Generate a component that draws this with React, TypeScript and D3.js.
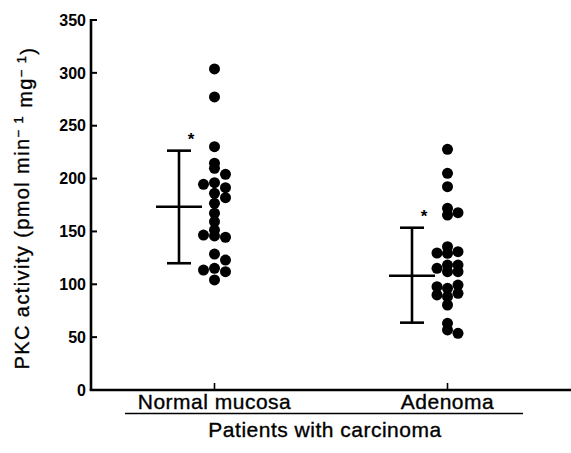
import React from "react";
import * as d3 from "d3";

const categories = ["Normal mucosa", "Adenoma"];
const groupLabel = "Patients with carcinoma";
const yTicks = [0, 50, 100, 150, 200, 250, 300, 350];

// individual values, with column (-1 left, 0 centre, 1 right) in the dot stack
const normalValues = [303.7, 277.2, 230.2, 214.5, 209.7, 204, 194.6, 196.1, 191.4, 186.1, 181.9, 176.6, 167.2, 159.2, 151.4, 146.6, 145.7, 144.5, 128.6, 122.9, 113.5, 115.1, 111.9, 104.1];
const normalColumn = [0, 0, 0, 0, 0, 1, -1, 0, 1, 0, 1, 0, 0, 0, 0, -1, 0, 1, 0, 1, -1, 0, 1, 0];
const adenomaValues = [227.7, 205, 192.3, 171.9, 165.5, 167.7, 129.6, 135.6, 129.3, 130.8, 115.1, 118.2, 111.9, 118.2, 111.9, 97.7, 89.9, 96.2, 88.3, 80.4, 99.3, 91.5, 63.1, 56.8, 53.6];
const adenomaColumn = [0, 0, 0, 0, 0, 1, -1, 0, 0, 1, -1, 0, 0, 1, 1, -1, -1, 0, 0, 0, 1, 1, 0, 0, 1];

// mean and +/- SD
const means = [173.4, 108.1];
const upper = [226.4, 153.5];
const lower = [119.9, 63.7];

const W = 571;
const H = 453;
const font = "'Liberation Sans', Arial, Helvetica, sans-serif";

export default function App() {
  const x = d3.scalePoint<string>().domain(categories).range([91, 571]).padding(0.53);
  const y = d3.scaleLinear().domain([0, 350]).range([390, 20]);
  const x0 = 91;
  const yBase = y(0);
  const groups = [
    { values: normalValues, cols: normalColumn, colStep: 11 },
    { values: adenomaValues, cols: adenomaColumn, colStep: 10.5 },
  ];
  const sw = 2.6;
  const labelStyle = { fontFamily: font, fontSize: 21, letterSpacing: 0.5 } as const;

  return (
    <svg width={W} height={H} style={{ position: "absolute", left: 0, top: 0, background: "#fff" }}>
      {/* y axis */}
      <line x1={x0} x2={x0} y1={y(350) - 1} y2={yBase} stroke="#000" strokeWidth={sw} />
      {yTicks.map((t) => (
        <g key={t}>
          <line x1={x0} x2={x0 + 6} y1={y(t)} y2={y(t)} stroke="#000" strokeWidth={2} />
          <text x={86} y={y(t)} dy="0.36em" textAnchor="end" fontFamily={font} fontSize={16} fontWeight={600}>
            {t}
          </text>
        </g>
      ))}
      {/* x axis */}
      <line x1={x0 - sw / 2} x2={W} y1={yBase} y2={yBase} stroke="#000" strokeWidth={sw} />
      {categories.map((c) => (
        <g key={c}>
          <line x1={x(c)!} x2={x(c)!} y1={yBase} y2={yBase - 7} stroke="#000" strokeWidth={1.6} />
          <text x={x(c)!} y={409} textAnchor="middle" {...labelStyle} stroke="#000" strokeWidth={0.35}>
            {c}
          </text>
        </g>
      ))}
      <line x1={125} x2={523} y1={413.5} y2={413.5} stroke="#000" strokeWidth={1.6} />
      <text x={325} y={437} textAnchor="middle" {...labelStyle} stroke="#000" strokeWidth={0.35}>
        {groupLabel}
      </text>
      {/* y title */}
      <text
        transform={`translate(29, ${208}) rotate(-90)`}
        textAnchor="middle"
        fontFamily={font}
        fontSize={20}
        letterSpacing={1.4}
        stroke="#000"
        strokeWidth={0.35}
      >
        PKC activity (pmol min
        <tspan dy="-0.45em" fontSize={13}>− 1</tspan>
        <tspan dy="0.45em"> mg</tspan>
        <tspan dy="-0.45em" fontSize={13}>− 1</tspan>
        <tspan dy="0.45em">)</tspan>
      </text>
      {/* error bars */}
      {categories.map((c, i) => {
        const bx = x(c)! - 35.5;
        return (
          <g key={"eb" + c} stroke="#000" strokeWidth={sw}>
            <line x1={bx} x2={bx} y1={y(upper[i])} y2={y(lower[i])} />
            <line x1={bx - 12} x2={bx + 12} y1={y(upper[i])} y2={y(upper[i])} />
            <line x1={bx - 12} x2={bx + 12} y1={y(lower[i])} y2={y(lower[i])} />
            <line x1={bx - 23} x2={bx + 23} y1={y(means[i])} y2={y(means[i])} />
            <text
              x={bx + 12}
              y={y(upper[i]) - 6}
              textAnchor="middle"
              fontFamily={font}
              fontSize={17}
              fontWeight={700}
              stroke="none"
            >
              *
            </text>
          </g>
        );
      })}
      {/* dots */}
      {categories.map((c, i) =>
        groups[i].values.map((v, j) => (
          <circle
            key={c + j}
            cx={x(c)! + groups[i].cols[j] * groups[i].colStep}
            cy={y(v)}
            r={5.5}
            fill="#000"
          />
        ))
      )}
    </svg>
  );
}
